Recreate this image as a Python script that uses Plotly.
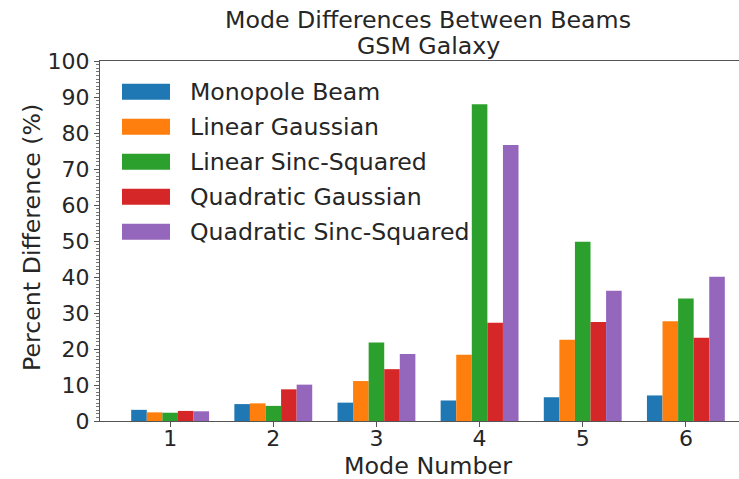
import plotly.graph_objects as go

modes = [1, 2, 3, 4, 5, 6]
mode_labels = ["1", "2", "3", "4", "5", "6"]

monopole = [3.1, 4.7, 5.1, 5.7, 6.6, 7.1]
linear_gauss = [2.4, 4.9, 11.1, 18.4, 22.6, 27.7]
linear_sinc = [2.3, 4.2, 21.8, 88.0, 49.8, 34.0]
quad_gauss = [2.8, 8.8, 14.4, 27.3, 27.5, 23.1]
quad_sinc = [2.7, 10.1, 18.6, 76.7, 36.2, 40.1]

names = ["Monopole Beam", "Linear Gaussian", "Linear Sinc-Squared",
         "Quadratic Gaussian", "Quadratic Sinc-Squared"]
series = [monopole, linear_gauss, linear_sinc, quad_gauss, quad_sinc]
colors = ["#1f77b4", "#ff7f0e", "#2ca02c", "#d62728", "#9467bd"]

FONT = "DejaVu Sans"
TXT = "#262626"
W, H = 739, 479
L, R, T, B = 100, 0, 61, 58
pw, ph = W - L - R, H - T - B


def px_x(v):
    return (v - L) / pw


def px_y(v):
    return (H - B - v) / ph


fig = go.Figure()
for name, vals, c in zip(names, series, colors):
    fig.add_trace(go.Bar(x=modes, y=vals, name=name, marker_color=c,
                         marker_line_width=0, showlegend=False))

# legend drawn by hand so the swatches are wide like matplotlib's
row0, step = 91.7, 35
for i, (name, c) in enumerate(zip(names, colors)):
    cy = row0 + i * step
    fig.add_shape(type="rect", xref="paper", yref="paper",
                  x0=px_x(122), x1=px_x(170), y0=px_y(cy + 8), y1=px_y(cy - 8),
                  fillcolor=c, line_width=0)
    fig.add_annotation(xref="paper", yref="paper", x=px_x(188), y=px_y(cy),
                       xanchor="left", yanchor="middle", text=name, showarrow=False,
                       font=dict(family=FONT, size=23.6, color=TXT))

# titles as annotations for exact placement
for txt, y in [("Mode Differences Between Beams", 20), ("GSM Galaxy", 46)]:
    fig.add_annotation(xref="paper", yref="paper", x=px_x(428), y=px_y(y),
                       xanchor="center", yanchor="middle", text=txt, showarrow=False,
                       font=dict(family=FONT, size=23.7, color=TXT))
fig.add_annotation(xref="paper", yref="paper", x=px_x(428), y=px_y(466),
                   xanchor="center", yanchor="middle", text="Mode Number",
                   showarrow=False, font=dict(family=FONT, size=23.8, color=TXT))
fig.add_annotation(xref="paper", yref="paper", x=px_x(32), y=px_y(238),
                   xanchor="center", yanchor="middle", text="Percent Difference (%)",
                   textangle=-90, showarrow=False,
                   font=dict(family=FONT, size=23.7, color=TXT))

fig.update_layout(
    width=W, height=H,
    margin=dict(l=L, r=R, t=T, b=B),
    plot_bgcolor="white", paper_bgcolor="white",
    barmode="group", bargap=0.245, bargroupgap=0,
    font=dict(family=FONT, size=22, color=TXT),
)

fig.update_xaxes(range=[0.32, 6.515], tickvals=modes, ticktext=mode_labels,
                 automargin=False, ticklabelstandoff=-7,
                 showline=True, mirror=True, linecolor="#555", linewidth=1,
                 ticks="outside", ticklen=5, tickcolor="#555",
                 showgrid=False, zeroline=False)
fig.update_yaxes(range=[0, 100], dtick=10, automargin=False,
                 showline=True, linecolor="#555", linewidth=1,
                 ticks="outside", ticklen=5, tickcolor="#555",
                 minor=dict(dtick=1, ticks="outside", ticklen=3, tickcolor="#777"),
                 showgrid=False, zeroline=False)

# the page body has an 8px default margin; drop it so the figure sits at 0,0
fig.write_html("out.html", config={"displayModeBar": False},
               post_script="document.body.style.margin='0';")
